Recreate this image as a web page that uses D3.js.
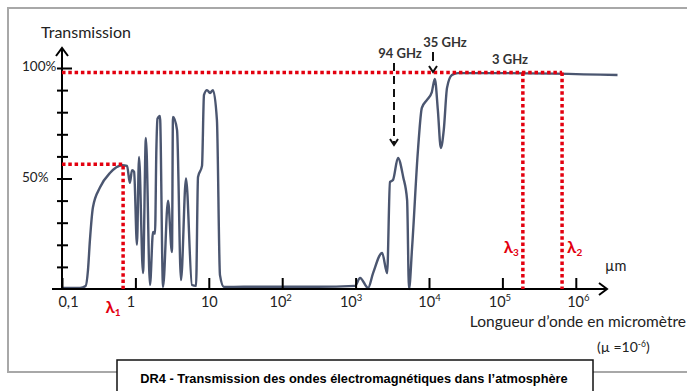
<!DOCTYPE html>
<html>
<head>
<meta charset="utf-8">
<script src="https://cdn.jsdelivr.net/npm/d3@7"></script>
<style>
  body { margin: 0; background: #fff; }
  svg { display: block; }
  text { font-family: Lato, "Noto Sans", sans-serif; fill: #222; }
</style>
</head>
<body>
<svg id="chart" width="687" height="391"></svg>
<script>
// wavelength in micrometre, transmission in %
var wavelengths = [0.1, 0.176, 0.21, 0.226, 0.24, 0.264, 0.33, 0.45, 0.66, 0.77, 0.84, 0.9, 0.96,
    1.05, 1.12, 1.27, 1.39, 1.58, 1.74, 1.85, 1.93, 2.0, 2.16, 2.38, 2.78, 3.15, 3.25, 3.69, 4.18,
    4.89, 5.9, 6.7, 7.13, 8.08, 8.6, 9.45, 10.4, 11.4, 12.9, 14.2, 16.1, 30, 100, 300, 980, 1150,
    1480, 1730, 2300, 2690, 2940, 3230, 3780, 4450, 5030, 5340, 5890, 7080, 7990, 9340, 10900,
    12000, 13200, 14500, 15900, 17600, 20500, 24800, 100000, 3700000]
var transmission = [0.5, 0.5, 1.4, 8.6, 22, 37, 46, 52.5, 56, 55.7, 48, 53.8, 53,
    20, 59.7, 7.2, 68.3, 1.8, 25.8, 25, 63, 77, 78.3, 0.9, 40, 16.7, 77.8, 72, 4,
    50, 1.8, 1.4, 50.7, 55.7, 87.8, 90, 88.7, 90, 76.5, 6.3, 0.9, 1, 1, 1, 1.4, 5,
    0.5, 7.2, 16.3, 7.2, 48.4, 49.3, 59.3, 50.7, 40.3, 0, 19, 63, 82, 85.5, 89,
    95, 81, 63.8, 72, 91, 96.8, 97.7, 97.7, 96.8]

var xTicks = [0.1, 1, 10, 100, 1e3, 1e4, 1e5, 1e6]
var xTickBase = ['0,1', '1', '10', '10', '10', '10', '10', '10']
var xTickExp = ['', '', '', '2', '3', '4', '5', '6']
var yTicks = [10, 20, 30, 40, 50, 60, 70, 80, 90, 100]
var yLabels = [50, 100]

// red dotted guides
var lambdaNames = ['1', '3', '2']
var lambdaValues = [0.68, 190000, 650000]
var lambdaLevels = [56.5, 98, 98]

var freqNames = ['94 GHz', '35 GHz', '3 GHz']

var svg = d3.select('#chart')
var red = '#e3000f'
var curveColor = '#4b5670'

var x = d3.scaleLog().domain([0.1, 1e6]).range([62, 575.8])
var y = d3.scaleLinear().domain([0, 100]).range([289, 68])

// outer frame
svg.append('path')
    .attr('d', 'M690,8 L8,8 L8,372 L690,372')
    .attr('fill', 'none')
    .attr('stroke', '#a8a8a8')
    .attr('stroke-width', 2)

// curve
var pts = wavelengths.map((w, i) => [w, transmission[i]])
svg.append('path')
    .datum(pts)
    .attr('fill', 'none')
    .attr('stroke', curveColor)
    .attr('stroke-width', 2.4)
    .attr('stroke-linejoin', 'round')
    .attr('d', d3.line().x(d => x(d[0])).y(d => y(d[1])).curve(d3.curveMonotoneX))

// x axis
var xAxis = svg.append('g')
    .attr('transform', 'translate(0,' + y(0) + ')')
    .call(d3.axisBottom(x).tickValues(xTicks).tickSize(-11).tickFormat(''))
xAxis.select('.domain').remove()
xAxis.selectAll('.tick line').attr('stroke', '#000').attr('stroke-width', 2)
var xOffsets = [6, -5, 0, -2, -5, 0, -3, 2]
xAxis.selectAll('.tick').each(function (d, i) {
    var t = d3.select(this).append('text')
        .attr('x', xOffsets[i])
        .attr('y', 18)
        .attr('text-anchor', 'middle')
        .style('font-size', '14.5px')
        .attr('fill', '#222')
    t.append('tspan').text(xTickBase[i])
    if (xTickExp[i]) {
        t.append('tspan').attr('dy', -6).style('font-size', '9.5px').text(xTickExp[i])
    }
})

svg.append('line')
    .attr('x1', 52).attr('x2', 607)
    .attr('y1', y(0)).attr('y2', y(0))
    .attr('stroke', '#000').attr('stroke-width', 2)
svg.append('path')
    .attr('d', 'M599,283 L607,289 L599,295')
    .attr('fill', 'none').attr('stroke', '#000').attr('stroke-width', 2)

// y axis
var yAxis = svg.append('g')
    .attr('transform', 'translate(62,0)')
    .call(d3.axisLeft(y).tickValues(yTicks).tickSize(5).tickFormat(''))
yAxis.select('.domain').remove()
yAxis.selectAll('.tick line')
    .attr('stroke', '#000').attr('stroke-width', 2)
    .attr('x2', d => yLabels.includes(d) ? 10 : 6)
    .attr('x1', -5)

svg.append('line')
    .attr('x1', 62).attr('x2', 62)
    .attr('y1', y(0) + 1).attr('y2', 48)
    .attr('stroke', '#000').attr('stroke-width', 2)
svg.append('path')
    .attr('d', 'M56,56 L62,48 L68,56')
    .attr('fill', 'none').attr('stroke', '#000').attr('stroke-width', 2)

svg.selectAll('.ylab')
    .data(yLabels)
    .enter()
    .append('text')
    .attr('class', 'ylab')
    .attr('x', 22)
    .attr('y', d => y(d) + 3)
    .style('font-size', '13.5px')
    .text(d => d + '%')

svg.append('text')
    .attr('x', 41).attr('y', 38)
    .style('font-size', '16px')
    .text('Transmission')

// red dotted lines
var dotted = { stroke: red, 'stroke-width': 3.5, 'stroke-dasharray': '3.5,2.8', fill: 'none' }
function redLine(path) {
    var p = svg.append('path').attr('d', path)
    Object.keys(dotted).forEach(k => p.attr(k, dotted[k]))
}
redLine(d3.line()([[x(0.1), y(lambdaLevels[0])], [x(lambdaValues[0]), y(lambdaLevels[0])], [x(lambdaValues[0]), y(0)]]))
redLine(d3.line()([[x(0.1), y(lambdaLevels[1])], [x(lambdaValues[2]), y(lambdaLevels[1])]]))
redLine(d3.line()([[x(lambdaValues[1]), y(lambdaLevels[1])], [x(lambdaValues[1]), y(0)]]))
redLine(d3.line()([[x(lambdaValues[2]), y(lambdaLevels[2])], [x(lambdaValues[2]), y(0)]]))

// lambda labels
var lamPos = [[x(lambdaValues[0]) - 10, 313, 'middle'], [x(lambdaValues[1]) - 4, 253, 'end'], [x(lambdaValues[2]) + 5, 253, 'start']]
lambdaNames.forEach(function (n, i) {
    var t = svg.append('text')
        .attr('x', lamPos[i][0]).attr('y', lamPos[i][1])
        .attr('text-anchor', lamPos[i][2])
        .style('font-size', '17px')
        .style('font-weight', 'bold')
        .style('fill', red)
    t.append('tspan').text('λ')
    t.append('tspan').attr('dy', 3).style('font-size', '10px').text(n)
})

// frequency annotations
svg.append('line')
    .attr('x1', 394).attr('x2', 394).attr('y1', 63).attr('y2', 143)
    .attr('stroke', '#111').attr('stroke-width', 2).attr('stroke-dasharray', '8,5')
svg.append('path')
    .attr('d', 'M390,139 L394,145 L398,139')
    .attr('fill', 'none').attr('stroke', '#111').attr('stroke-width', 2)
svg.append('line')
    .attr('x1', 433).attr('x2', 433).attr('y1', 52).attr('y2', 61)
    .attr('stroke', '#111').attr('stroke-width', 2)
svg.append('path')
    .attr('d', 'M429,66 L433,72 L437,66')
    .attr('fill', 'none').attr('stroke', '#111').attr('stroke-width', 2)

var freqPos = [[400, 58], [445, 47], [510, 64]]
svg.selectAll('.freq')
    .data(freqNames)
    .enter()
    .append('text')
    .attr('class', 'freq')
    .attr('x', (d, i) => freqPos[i][0])
    .attr('y', (d, i) => freqPos[i][1])
    .attr('text-anchor', 'middle')
    .style('font-size', '13px')
    .style('font-weight', 'bold')
    .style('fill', '#333')
    .text(d => d)

// axis titles
svg.append('text')
    .attr('x', 605).attr('y', 271)
    .style('font-size', '14.5px')
    .text('µm')
svg.append('text')
    .attr('x', 686).attr('y', 327)
    .attr('text-anchor', 'end')
    .style('font-size', '15.5px')
    .text('Longueur d’onde en micromètre')
var unit = svg.append('text')
    .attr('x', 597).attr('y', 352)
    .style('font-size', '14px')
unit.append('tspan').text('(µ =10')
unit.append('tspan').attr('dy', -5).style('font-size', '8.5px').text('-6')
unit.append('tspan').attr('dy', 5).text(')')

// caption box
svg.append('rect')
    .attr('x', 117).attr('y', 360)
    .attr('width', 476).attr('height', 60)
    .attr('fill', '#fff')
    .attr('stroke', '#111').attr('stroke-width', 1.5)
svg.append('text')
    .attr('x', 354).attr('y', 383)
    .attr('text-anchor', 'middle')
    .style('font-family', '"Liberation Sans", Arial, sans-serif')
    .style('font-weight', 'bold')
    .style('font-size', '12.8px')
    .style('fill', '#000')
    .text('DR4 - Transmission des ondes électromagnétiques dans l’atmosphère')
</script>
</body>
</html>
